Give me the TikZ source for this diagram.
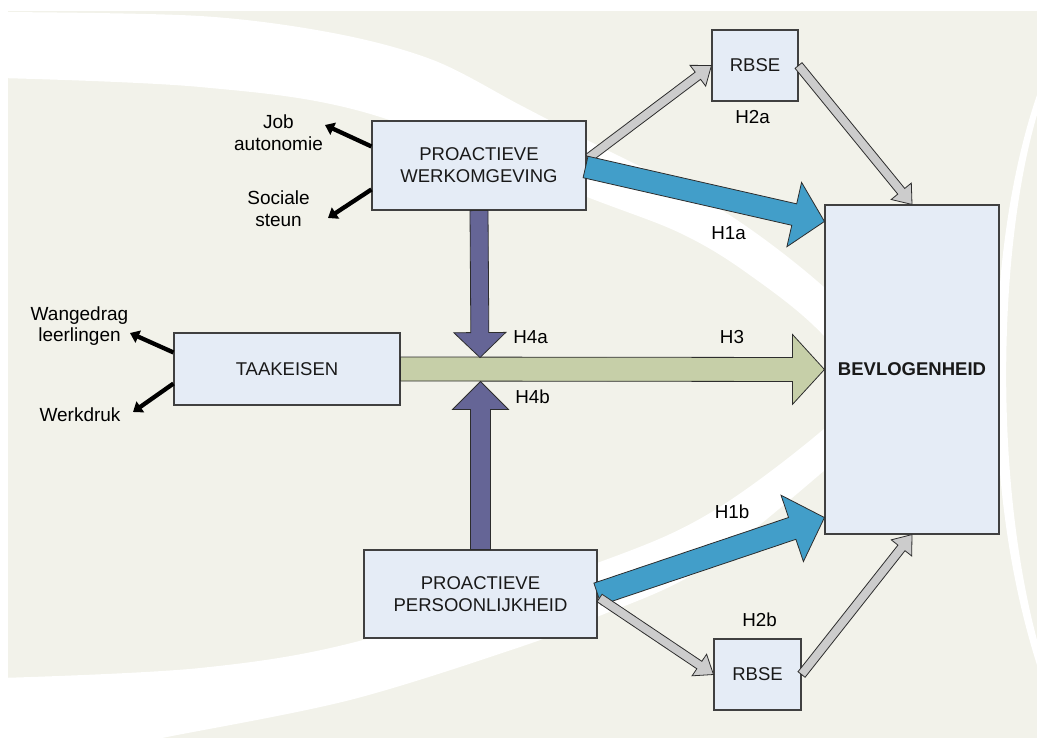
\documentclass[tikz,border=0pt]{standalone}
\usepackage{fontspec}
\setmainfont{Liberation Sans}
\usetikzlibrary{calc,arrows.meta}
\definecolor{bgbeige}{RGB}{242,242,234}
\definecolor{boxfill}{RGB}{229,236,246}
\definecolor{boxline}{RGB}{64,64,64}
\definecolor{arrline}{RGB}{45,45,45}
\definecolor{bluearr}{RGB}{66,158,201}
\definecolor{purplearr}{RGB}{101,101,150}
\definecolor{greenarr}{RGB}{198,207,168}
\definecolor{grayarr}{RGB}{204,204,204}
\newcommand\blockarrow[6]{%
  \coordinate (ba) at ($(#3)!#6!(#2)$);
  \path[#1] ($(#2)!#4!90:(#3)$) -- ($(ba)!#4!-90:(#2)$) -- ($(ba)!#5!-90:(#2)$) -- (#3)
    -- ($(ba)!#5!90:(#2)$) -- ($(ba)!#4!90:(#2)$) -- ($(#2)!#4!-90:(#3)$) -- cycle;
}
\tikzset{
  box/.style={draw=boxline, line width=1.1pt, fill=boxfill, inner sep=0pt, align=center,
    font=\fontsize{18.5}{22}\selectfont, text=black!90},
  lbl/.style={inner sep=0pt, align=center, font=\fontsize{19}{21.7}\selectfont},
  hlbl/.style={inner sep=0pt, font=\fontsize{18.8}{22}\selectfont},
  blockblue/.style={fill=bluearr, draw=arrline, line width=0.8pt, line join=miter},
  blockgray/.style={fill=grayarr, draw=arrline, line width=0.8pt, line join=miter},
  blockgreen/.style={fill=greenarr, draw=arrline, line width=0.8pt, line join=miter},
  blockpurple/.style={fill=purplearr, draw=arrline, line width=0.8pt, line join=miter},
  thickarr/.style={draw=black, line width=4.3pt, -{Triangle[length=9pt,width=13pt]}}
}
\begin{document}
\begin{tikzpicture}[x=1pt,y=-1pt]
\useasboundingbox (0,0) rectangle (1037,737);
% background
\begin{scope}
\clip (0,0) rectangle (1037,737);
\fill[white] (0,0) rectangle (1037,737);
\fill[bgbeige] (8,11) rectangle (1040,740);
\fill[white] plot[smooth,tension=0.55] coordinates {(0,12) (200,16) (333,33) (433,60) (520,105) (587,140) (720,209) (825,288) (900,370)}
  -- plot[smooth,tension=0.55] coordinates {(900,440) (825,337) (747,273) (680,233) (587,197) (367,113) (200,87) (0,78)} -- cycle;
\fill[white] plot[smooth,tension=0.55] coordinates {(0,678) (200,668) (363,640) (597,563) (710,513) (825,428) (900,350)}
  -- plot[smooth,tension=0.55] coordinates {(900,400) (825,470) (700,570) (597,617) (520,647) (350,700) (167,737) (100,750)} -- (0,750) -- cycle;
\fill[white] (1037,95) .. controls (990,230) and (975,470) .. (1037,665)
  -- (1037,640) .. controls (992,470) and (1000,240) .. (1037,115) -- cycle;
\end{scope}

% boxes
\node[box, minimum width=214pt, minimum height=89pt] (werk) at (479,165.5) {PROACTIEVE\\WERKOMGEVING};
\node[box, minimum width=86pt, minimum height=71pt] (rbseA) at (755,65.5) {RBSE};
\node[box, minimum width=174pt, minimum height=329pt, font=\fontsize{18.5}{22}\selectfont\bfseries] (bev) at (912,369.5) {BEVLOGENHEID};
\node[box, minimum width=226pt, minimum height=72pt] (taak) at (287,369) {TAAKEISEN};
\node[box, minimum width=233pt, minimum height=88pt] (pers) at (480.5,594) {PROACTIEVE\\PERSOONLIJKHEID};
\node[box, minimum width=87pt, minimum height=71pt] (rbseB) at (757.5,674.5) {RBSE};

% side labels
\node[lbl] (jobl) at (278.5,132.5) {Job\\autonomie};
\node[lbl] (socl) at (278.5,208.5) {Sociale\\steun};
\node[lbl] (wanl) at (79.5,326) {Wangedrag\\leerlingen};
\node[lbl] (wdl) at (80,415) {Werkdruk};

% connector coordinates
\coordinate (jobs) at ($(werk.north west)+(0,26)$);
\coordinate (jobt) at (325,125);
\coordinate (socs) at ($(werk.north west)+(0,69)$);
\coordinate (soct) at (328,218);
\coordinate (wans) at ($(taak.north west)+(0,20)$);
\coordinate (want) at (130,333);
\coordinate (wds) at ($(taak.south west)+(0,-22)$);
\coordinate (wdt) at (133,412);

\draw[thickarr] (jobs) -- (jobt);
\draw[thickarr] (socs) -- (soct);
\draw[thickarr] (wans) -- (want);
\draw[thickarr] (wds) -- (wdt);

\coordinate (h1as) at ($(werk.east)+(-1,1.5)$);
\coordinate (h1at) at ($(bev.north west)+(0,17)$);
\coordinate (h1bs) at ($(pers.east)+(0,0)$);
\coordinate (h1bt) at ($(bev.south west)+(0,-17)$);
\coordinate (h2as) at ($(werk.east)+(2,-7.5)$);
\coordinate (h2bs) at ($(pers.east)+(2,4)$);
\coordinate (h4at) at ($(werk.south)+(1,147)$);
\coordinate (h4bt) at ($(pers.north)+(0,-168)$);

% block arrows
\blockarrow{blockgreen}{taak.east}{bev.west}{12pt}{35pt}{32pt}
\blockarrow{blockpurple}{werk.south}{h4at}{9pt}{26pt}{25pt}
\blockarrow{blockpurple}{pers.north}{h4bt}{10pt}{28pt}{28pt}
\blockarrow{blockgray}{h2as}{rbseA.west}{4.5pt}{13pt}{17pt}
\blockarrow{blockgray}{rbseA.east}{bev.north}{4.5pt}{13pt}{17pt}
\blockarrow{blockblue}{h1as}{h1at}{11pt}{33pt}{31pt}
\blockarrow{blockblue}{h1bs}{h1bt}{11.5pt}{35pt}{34pt}
\blockarrow{blockgray}{h2bs}{rbseB.west}{4.5pt}{13pt}{17pt}
\blockarrow{blockgray}{rbseB.east}{bev.south}{4.5pt}{13pt}{17pt}

% H labels
\node[hlbl] (lh2a) at (752.5,117) {H2a};
\node[hlbl] (lh1a) at (728.5,233) {H1a};
\node[hlbl] (lh4a) at (530.5,337) {H4a};
\node[hlbl] (lh3) at (732,337) {H3};
\node[hlbl] (lh4b) at (532.5,397) {H4b};
\node[hlbl] (lh1b) at (732,512) {H1b};
\node[hlbl] (lh2b) at (759.5,620) {H2b};
\end{tikzpicture}
\end{document}
